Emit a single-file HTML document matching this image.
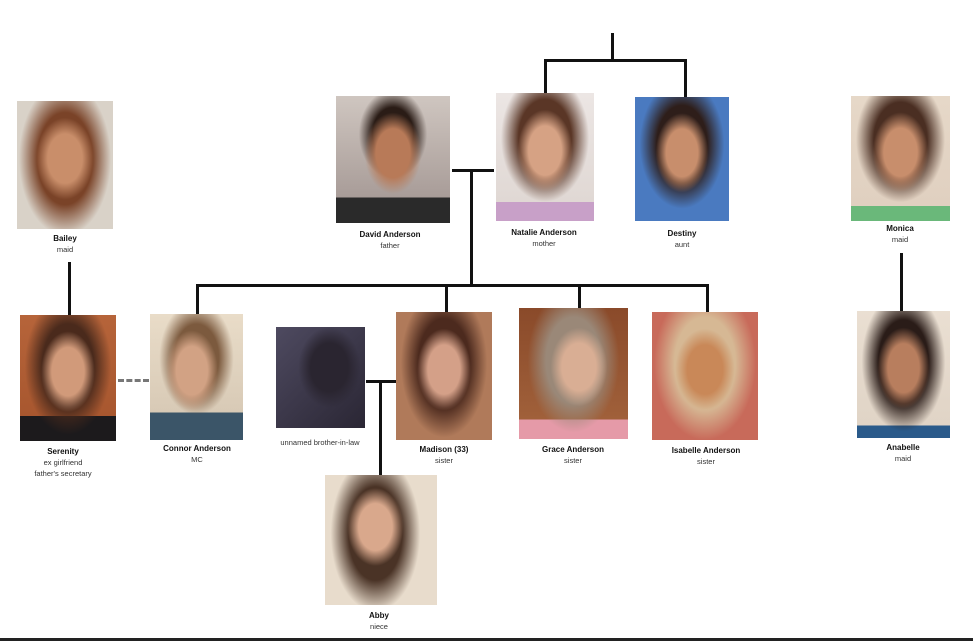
<!DOCTYPE html>
<html><head><meta charset="utf-8"><style>
body{margin:0;width:973px;height:641px;background:#fff;position:relative;overflow:hidden;font-family:"Liberation Sans",Arial,sans-serif}
.p{position:absolute}
.l{position:absolute;background:#111}
.t{position:absolute;width:160px;margin-left:-80px;text-align:center;font-size:7.5px;color:#333;line-height:11px}
.t b{color:#111;font-size:8px}
</style></head><body>
<!-- photos -->
<div class="p" style="left:17px;top:101px;width:96px;height:128px;background:radial-gradient(ellipse 30% 32% at 50% 45%,#c98e6a 60%,transparent 100%),radial-gradient(ellipse 48% 60% at 50% 45%,#7a4328 60%,transparent 100%),#d9d2c8"></div>
<div class="p" style="left:20px;top:315px;width:96px;height:126px;background:radial-gradient(ellipse 28% 32% at 50% 45%,#d19a7a 60%,transparent 100%),radial-gradient(ellipse 45% 55% at 50% 40%,#4a2a1c 60%,transparent 100%),linear-gradient(#b6643a,#a8572f 80%,#1c1a1c 80%)"></div>
<div class="p" style="left:150px;top:314px;width:93px;height:126px;background:radial-gradient(ellipse 28% 32% at 45% 45%,#d2a284 60%,transparent 100%),radial-gradient(ellipse 40% 45% at 50% 35%,#7c5a3e 60%,transparent 100%),linear-gradient(#e9dcc8,#d8cab6 78%,#3b5568 78%)"></div>
<div class="p" style="left:276px;top:327px;width:89px;height:101px;background:radial-gradient(ellipse 35% 40% at 60% 40%,#2a2530 60%,transparent 100%),linear-gradient(135deg,#4e4a60,#2a2634)"></div>
<div class="p" style="left:396px;top:312px;width:96px;height:128px;background:radial-gradient(ellipse 28% 32% at 50% 45%,#d4a088 60%,transparent 100%),radial-gradient(ellipse 45% 58% at 50% 40%,#4c2a1e 60%,transparent 100%),#b07a5a"></div>
<div class="p" style="left:519px;top:308px;width:109px;height:131px;background:radial-gradient(ellipse 26% 30% at 55% 45%,#d9ae94 60%,transparent 100%),radial-gradient(ellipse 42% 55% at 50% 40%,#9a8878 60%,transparent 100%),linear-gradient(#8a4a2a,#a0603a 85%,#e59aa8 85%)"></div>
<div class="p" style="left:652px;top:312px;width:106px;height:128px;background:radial-gradient(ellipse 28% 32% at 50% 45%,#c98858 60%,transparent 100%),radial-gradient(ellipse 48% 60% at 50% 40%,#d6b894 60%,transparent 100%),#c86a5a"></div>
<div class="p" style="left:325px;top:475px;width:112px;height:130px;background:radial-gradient(ellipse 25% 30% at 45% 40%,#d9a88c 60%,transparent 100%),radial-gradient(ellipse 40% 60% at 45% 45%,#4a3326 60%,transparent 100%),#e8dccc"></div>
<div class="p" style="left:336px;top:96px;width:114px;height:127px;background:radial-gradient(ellipse 25% 32% at 50% 45%,#b87a58 60%,transparent 100%),radial-gradient(ellipse 30% 35% at 50% 30%,#2a1c16 60%,transparent 100%),linear-gradient(#cfc6c0,#a89c98 80%,#2a2a2a 80%)"></div>
<div class="p" style="left:496px;top:93px;width:98px;height:128px;background:radial-gradient(ellipse 28% 32% at 50% 45%,#d6a284 60%,transparent 100%),radial-gradient(ellipse 45% 50% at 50% 35%,#5a3626 60%,transparent 100%),linear-gradient(#ece6e4,#e0d8d4 85%,#c8a0c8 85%)"></div>
<div class="p" style="left:635px;top:97px;width:94px;height:124px;background:radial-gradient(ellipse 28% 32% at 50% 45%,#c88e6c 60%,transparent 100%),radial-gradient(ellipse 45% 52% at 50% 38%,#2e1e1a 60%,transparent 100%),#4a7ac0"></div>
<div class="p" style="left:851px;top:96px;width:99px;height:125px;background:radial-gradient(ellipse 28% 32% at 50% 45%,#c88e6c 60%,transparent 100%),radial-gradient(ellipse 45% 50% at 50% 35%,#4a2e22 60%,transparent 100%),linear-gradient(#e6d8c8,#e0d0c0 88%,#6ab87a 88%)"></div>
<div class="p" style="left:857px;top:311px;width:93px;height:127px;background:radial-gradient(ellipse 28% 32% at 50% 45%,#b87e5e 60%,transparent 100%),radial-gradient(ellipse 45% 55% at 50% 40%,#2a1c18 60%,transparent 100%),linear-gradient(#eadfd2,#e0d4c6 90%,#2a5a8a 90%)"></div>
<!-- lines -->
<div class="l" style="left:611px;top:33px;width:3px;height:28px"></div>
<div class="l" style="left:544px;top:59px;width:143px;height:3px"></div>
<div class="l" style="left:544px;top:59px;width:3px;height:34px"></div>
<div class="l" style="left:684px;top:59px;width:3px;height:38px"></div>
<div class="l" style="left:452px;top:169px;width:42px;height:3px"></div>
<div class="l" style="left:470px;top:169px;width:3px;height:117px"></div>
<div class="l" style="left:196px;top:284px;width:513px;height:3px"></div>
<div class="l" style="left:196px;top:284px;width:3px;height:30px"></div>
<div class="l" style="left:445px;top:284px;width:3px;height:28px"></div>
<div class="l" style="left:578px;top:284px;width:3px;height:24px"></div>
<div class="l" style="left:706px;top:284px;width:3px;height:28px"></div>
<div class="l" style="left:366px;top:380px;width:30px;height:3px"></div>
<div class="l" style="left:379px;top:380px;width:3px;height:95px"></div>
<div class="l" style="left:68px;top:262px;width:3px;height:53px"></div>
<div class="l" style="left:900px;top:253px;width:3px;height:58px"></div>
<div class="p" style="left:118px;top:379px;width:31px;height:0;border-top:3px dashed #777"></div>
<div class="l" style="left:0;top:638px;width:973px;height:3px;background:#222"></div>
<!-- labels -->
<div class="t" style="left:65px;top:233px"><b>Bailey</b><br>maid</div>
<div class="t" style="left:63px;top:446px"><b>Serenity</b><br>ex girlfriend<br>father's secretary</div>
<div class="t" style="left:197px;top:443px"><b>Connor Anderson</b><br>MC</div>
<div class="t" style="left:320px;top:437px">unnamed brother-in-law</div>
<div class="t" style="left:444px;top:444px"><b>Madison (33)</b><br>sister</div>
<div class="t" style="left:573px;top:444px"><b>Grace Anderson</b><br>sister</div>
<div class="t" style="left:706px;top:445px"><b>Isabelle Anderson</b><br>sister</div>
<div class="t" style="left:379px;top:610px"><b>Abby</b><br>niece</div>
<div class="t" style="left:390px;top:229px"><b>David Anderson</b><br>father</div>
<div class="t" style="left:544px;top:227px"><b>Natalie Anderson</b><br>mother</div>
<div class="t" style="left:682px;top:228px"><b>Destiny</b><br>aunt</div>
<div class="t" style="left:900px;top:223px"><b>Monica</b><br>maid</div>
<div class="t" style="left:903px;top:442px"><b>Anabelle</b><br>maid</div>
</body></html>
